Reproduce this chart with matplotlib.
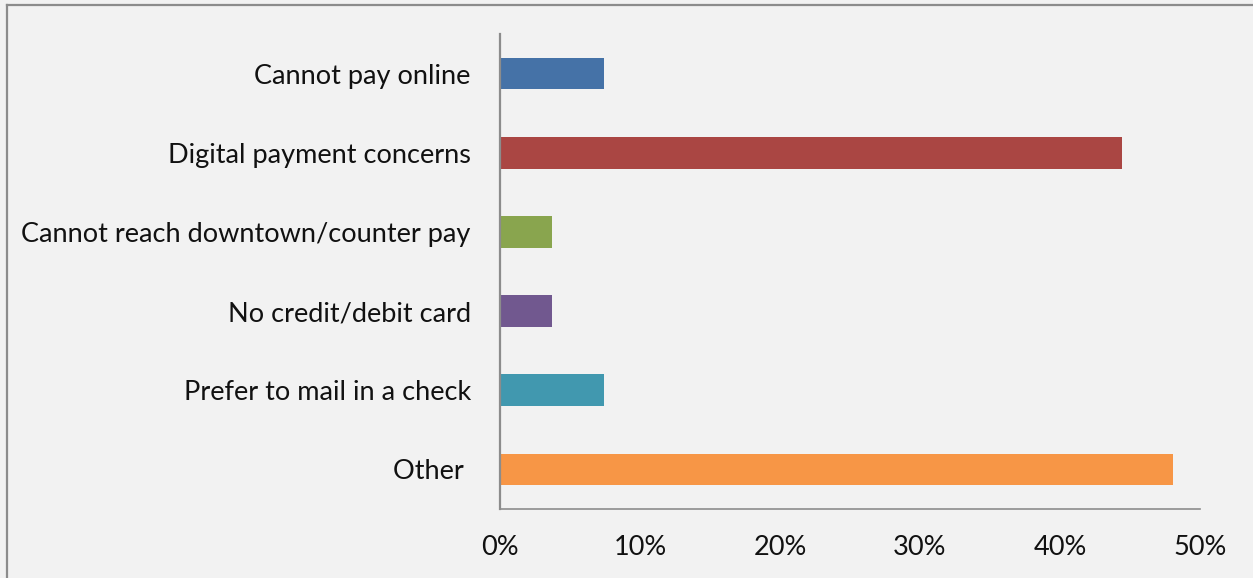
import matplotlib.pyplot as plt
from matplotlib.lines import Line2D
from matplotlib.ticker import FuncFormatter

categories = ["Cannot pay online", "Digital payment concerns",
              "Cannot reach downtown/counter pay", "No credit/debit card",
              "Prefer to mail in a check", "Other "]
shares = [7.4, 44.4, 3.7, 3.7, 7.4, 48.1]
colors = ["#4572a7", "#aa4643", "#89a54e", "#71588f", "#4198af", "#f79646"]
xticks = [0, 10, 20, 30, 40, 50]

plt.rcParams['font.family'] = ['Lato', 'DejaVu Sans']

fig = plt.figure(figsize=(12.53, 5.78), dpi=100, facecolor="#f2f2f2")
ax = fig.add_axes([500 / 1253, 69 / 578, 700 / 1253, 475 / 578])
ax.set_facecolor("#f2f2f2")

ax.barh(range(len(categories)), shares, height=0.4, color=colors)
ax.set_ylim(len(categories) - 0.5, -0.5)
ax.set_xlim(0, 50)
ax.set_yticks(range(len(categories)))
ax.set_yticklabels(categories, fontsize=19.5, color="#111111")
ax.set_xticks(xticks)
ax.xaxis.set_major_formatter(FuncFormatter(lambda v, p: f"{v:.0f}%"))
ax.tick_params(axis="x", length=0, pad=19, labelsize=19.5, labelcolor="#111111")
ax.tick_params(axis="y", length=0, pad=21)

for side in ("top", "right"):
    ax.spines[side].set_visible(False)
ax.spines["left"].set_color("#8c8c8c")
ax.spines["left"].set_linewidth(1.6)
ax.spines["bottom"].set_color("#8c8c8c")
ax.spines["bottom"].set_linewidth(1.2)

# outer chart frame (only the left and top edges fall inside the image)
fig.add_artist(Line2D([7 / 1253, 7 / 1253], [0, 573 / 578], transform=fig.transFigure,
                      color="#8c8c8c", linewidth=1.6))
fig.add_artist(Line2D([7 / 1253, 1], [573 / 578, 573 / 578], transform=fig.transFigure,
                      color="#8c8c8c", linewidth=1.6))

fig.savefig("out.png", dpi=100, facecolor=fig.get_facecolor())
